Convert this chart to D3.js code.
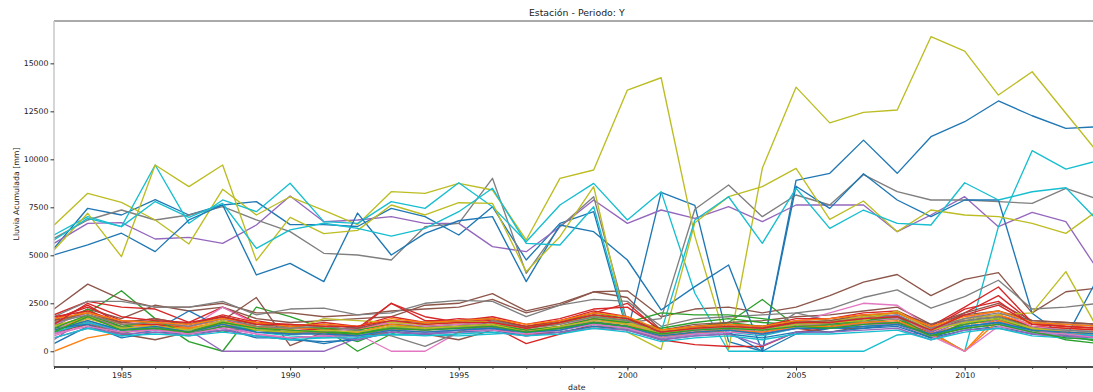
<!DOCTYPE html>
<html><head><meta charset="utf-8">
<script src="https://cdn.jsdelivr.net/npm/d3@7"></script>
<style>
body{margin:0;background:#fff}
svg{display:block}
text{font-family:"DejaVu Sans",sans-serif}
</style>
</head><body>
<svg id="chart" width="1093" height="392"></svg>
<script>
const years = [1983,1984,1985,1986,1987,1988,1989,1990,1991,1992,1993,1994,1995,1996,1997,1998,1999,2000,2001,2002,2003,2004,2005,2006,2007,2008,2009,2010,2011,2012,2013,2014];
const yTickValues = [0,2500,5000,7500,10000,12500,15000];
const xMajorTicks = [1985,1990,1995,2000,2005,2010];

const est00 = [5365,7448,7100,7900,7100,7620,7795,6600,6600,6500,7446,7012,6057,7530,4755,6665,7273,1000,8280,7600,500,0,8900,9270,11000,9270,11180,11960,13040,12270,11610,11700];
const est01 = [0,700,1000,1100,1000,1300,1100,1000,900,1000,1100,1200,1300,1400,1000,1300,1700,1500,900,1100,1300,1100,1500,1400,1600,1700,1100,1600,1800,1300,1200,1100];
const est02 = [1500,2000,3150,1700,500,0,2300,1800,1200,0,900,1500,1600,1700,1200,1500,2000,1700,1100,1300,1500,2700,1300,1400,1500,1700,900,1400,1700,1100,900,700];
const est03 = [1900,2600,2300,2200,1500,2300,1500,1400,1300,1100,2500,1800,1500,1700,1300,1600,2000,2500,1000,1200,1300,1200,1600,1700,1900,1800,1100,2000,2900,1500,1300,1200];
const est04 = [5625,6667,6700,5850,5930,5625,6580,8090,6750,6840,7012,6665,6665,5450,5189,6491,7880,6665,7360,6927,7535,6753,7621,7621,7620,6231,7100,8054,6492,7238,6752,4100];
const est05 = [2200,3500,2700,2300,2300,2500,2000,2000,1800,1900,2100,2200,2300,2700,2000,2400,3100,3150,1800,2200,2300,2000,2300,2900,3600,4000,2900,3750,4100,2000,3100,3300];
const est06 = [800,1400,1100,1200,1000,1300,900,700,800,900,0,0,1000,1200,900,1100,1500,1300,700,1000,1100,900,1300,1400,1800,1800,900,1300,1500,1100,900,800];
const est07 = [5885,6840,7361,6840,7100,7535,6840,6233,5104,5017,4755,6491,6665,9010,4061,6491,8054,1500,1700,7400,8664,7014,8142,7621,9200,8314,7880,7880,7793,7706,8488,7900];
const est08 = [6563,8229,7760,6840,5590,8437,7100,8050,7340,6600,8314,8228,8748,8400,5797,9010,9443,13609,14250,6000,100,9530,13760,11900,12447,12568,16387,15641,13349,14565,12400,10240];
const est09 = [6059,7014,6493,9703,6667,7882,7274,8750,6753,6660,7793,7446,8780,7530,5710,7620,8748,6839,8316,3021,0,0,0,0,0,850,1000,0,6490,10450,9490,9950];
const est10 = [5017,5538,6150,5191,6840,7620,3976,4583,3629,7200,5016,6144,6800,7012,3627,6578,6231,4755,2153,3370,4497,0,8600,7445,9245,7880,7010,7880,7880,1980,700,4000];
const est11 = [1300,1800,1300,1200,1100,1400,1200,1000,1100,900,1300,1100,1300,1300,1100,1200,1600,1300,700,1000,1200,1000,1300,1300,1400,1500,900,1400,1600,1100,1000,900];
const est12 = [1100,1500,900,1400,1200,1000,1300,900,1000,500,1200,1300,1200,1300,1000,1200,1500,1300,1000,1200,1500,1300,1500,1300,1700,1900,1100,1600,1800,1300,800,500];
const est13 = [1700,2300,1600,1500,1300,1700,1300,1200,1100,1200,1400,1300,1400,1300,400,900,1400,1200,600,350,250,250,1000,1200,1400,1500,1000,1700,1900,1300,1200,1100];
const est14 = [900,1500,1000,1200,1100,0,0,0,0,700,1000,900,1100,1300,1000,1200,1600,1300,900,1100,1200,1000,1400,1200,1500,1500,900,1600,1500,1100,1000,900];
const est15 = [1400,2200,1700,2400,2100,2300,1700,1500,1600,1700,1800,2400,2500,3000,2100,2500,3100,2800,1100,1400,1500,1600,1800,1900,2100,2300,1400,2000,2500,1600,1500,1400];
const est16 = [1200,1700,1300,1300,1200,2300,1400,1200,1300,1000,1300,1200,1300,1400,1100,1300,1800,1500,800,1200,1300,1100,1500,2000,2500,2400,1200,1400,1700,900,700,800];
const est17 = [1800,2600,2600,2300,2300,2600,1900,2200,2250,1900,2000,2500,2650,2600,1800,2400,2700,2600,1300,1700,1800,1900,2000,2200,2800,3200,2250,2850,3700,2200,2300,2500];
const est18 = [5278,7188,4931,9703,8576,9703,4722,6979,6130,6300,7620,7100,7740,7707,4148,5970,8574,1000,100,6700,8056,8576,9530,6875,7830,6231,7360,7100,7012,6665,6144,7400];
const est19 = [5800,6927,6493,7800,6980,7700,5365,6320,6670,6400,6000,6400,7270,8490,5623,5536,7530,1200,1000,6840,8050,5625,8490,6406,7359,6665,6579,8780,7880,8310,8520,6700];
const est20 = [400,1300,800,1100,2100,1200,700,700,400,700,1100,1000,1100,1200,900,1100,1500,1300,700,900,1000,0,900,1200,1200,1400,700,1300,1500,1000,900,800];
const est21 = [1000,1900,1500,1400,1300,1600,1300,1200,1200,1100,1500,1400,1500,1600,1200,1400,1900,1600,900,1200,1300,1200,1500,1500,1700,1800,1000,0,1900,1400,1300,1200];
const est22 = [1300,2200,1200,1600,1400,1800,1400,1300,1200,1100,1400,1300,1400,1500,1300,1500,1800,1600,1200,1500,1700,1500,1400,1300,1600,1700,700,1500,1700,1200,1100,1000];
const est23 = [1600,2400,1400,1400,1200,1500,1600,1300,1500,1300,1800,1500,1700,1600,1300,1600,2100,1800,900,1100,1300,1200,1500,1500,1800,2000,1200,2200,2600,1400,1300,1200];
const est24 = [600,1800,1200,1100,900,1300,1000,900,1000,800,1200,1100,1300,1200,1000,1200,1700,1400,900,1100,1300,1100,1600,1500,1700,1900,1000,1900,1600,1200,1000,900];
const est25 = [1000,1400,900,600,1000,1600,2800,300,1000,800,1000,900,600,1100,900,1000,1300,1200,700,900,1100,900,1200,1000,1300,1400,800,1200,1400,1000,900,700];
const est26 = [1400,2000,1500,1600,1300,1700,1200,1100,1000,1200,1500,1300,1400,1500,1100,1300,1600,1400,900,1100,1200,1000,1400,1400,1600,1700,1200,1700,2100,1300,1100,1000];
const est27 = [1100,1600,1100,1200,1000,1400,1100,900,1000,900,1200,1100,1200,1300,1000,1200,1500,1300,800,1000,1100,900,2000,1600,1700,1800,1100,1600,1800,1200,1100,1000];
const est28 = [1300,1800,1400,1300,1200,1500,1200,1100,1700,1600,1500,1400,1600,1500,1200,1500,1800,1500,900,1200,1400,1300,1500,1600,1800,2000,1300,1700,1900,2000,4150,1000];
const est29 = [1000,1500,1100,1300,1100,1600,1000,800,700,800,850,850,800,900,1000,1100,1400,1200,700,900,1000,800,1200,1200,1300,1400,800,1300,1500,1000,900,800];
const est30 = [1200,1400,700,1000,900,1100,800,600,500,600,1000,900,1000,1100,800,1000,1300,1100,600,800,900,700,1000,1000,1200,1300,700,1100,1300,900,800,700];
const est31 = [1500,2100,1400,1300,1200,1500,1300,1100,1000,1000,1400,1200,1300,1400,1100,1300,1700,1400,800,1000,1100,1000,1300,1300,1500,1600,900,0,1600,1200,1000,900];
const est32 = [1200,1900,1300,1600,900,1300,1100,1000,1100,900,1300,1200,1300,1400,1100,1300,1700,1500,2000,1900,1900,1700,1500,1400,1600,1800,800,1400,1700,1100,600,400];
const est33 = [1800,2100,1500,1700,1400,1900,1500,1300,1400,1200,2500,1600,1600,1800,1400,1700,2200,2300,1100,1300,1400,1300,1700,1700,2000,2100,1300,2300,3350,1500,1400,1300];
const est34 = [700,1200,900,1000,800,1100,800,700,800,600,1000,900,1000,1000,800,1000,1200,1100,600,800,900,300,1000,1000,1100,1200,600,1100,1200,900,800,700];
const est35 = [1600,2000,1500,1700,1400,1800,1400,1300,1400,1200,1600,1500,1600,1700,1200,1500,1900,1700,1000,1300,1400,1300,1500,1600,1900,2000,1400,1900,2100,1600,1500,1400];
const est36 = [900,1300,1000,1100,900,1200,900,700,800,800,1100,1000,1100,1100,900,1100,1400,1200,700,900,1000,900,1200,1200,1400,1400,800,0,1300,1000,900,700];
const est37 = [1500,1900,1400,1500,1300,1700,1300,1200,1300,1100,800,250,1000,1600,1200,1400,1800,1600,1000,1200,1300,1200,1400,1500,1700,1800,1200,1700,2000,1500,1400,1300];
const est38 = [1100,1700,1200,1300,1100,1600,1100,1000,1100,1000,1300,1200,1300,1400,1000,1300,1600,1400,1100,1200,1300,1100,1400,1500,1600,2100,1100,1500,1700,1200,1000,900];
const est39 = [700,1200,800,900,800,1000,800,600,700,700,900,800,900,1000,800,900,1200,1000,500,700,800,600,900,900,1000,1100,600,1000,1200,800,700,600];
const est40 = [1100,1600,1100,1300,1000,1400,1000,900,900,800,1100,1000,1100,1200,1000,1100,1500,1300,800,1000,1100,900,1200,1200,1300,1400,900,1300,1500,1100,1000,900];
const est41 = [1700,2000,1600,1500,1400,1700,1500,1300,1400,1300,1700,1500,1600,1700,1400,1600,2000,1800,1100,1300,1400,1300,1600,1700,1900,2000,1300,1800,2100,1500,1400,1300];
const est42 = [1000,1800,1100,1200,1000,1500,1200,1100,1000,900,1200,1100,1200,1300,1000,1200,1500,1300,900,1100,1200,1100,1300,1200,1400,1500,800,1200,1400,1000,700,600];
const est43 = [1400,2500,1800,1600,1500,1800,1400,1400,1300,1300,1600,1400,1500,1500,1200,1500,1900,1700,1000,1200,1300,1200,1500,1500,1700,1800,1100,1900,2400,1400,1300,1200];

const seriesList = [est00,est01,est02,est03,est04,est05,est06,est07,est08,est09,est10,est11,est12,est13,est14,est15,est16,est17,est18,est19,est20,est21,est22,est23,est24,est25,est26,est27,est28,est29,est30,est31,est32,est33,est34,est35,est36,est37,est38,est39,est40,est41,est42,est43];

const svg = d3.select("#chart");
const pLeft = 54, pRight = 1099.6, pTop = 21, pBottom = 367;

const x = d3.scaleLinear().domain(d3.extent(years)).range([pLeft, pRight]);
const allVals = seriesList.flat();
const vmin = d3.min(allVals), vmax = d3.max(allVals), vpad = (vmax - vmin) * 0.05;
const y = d3.scaleLinear().domain([vmin - vpad, vmax + vpad]).range([pBottom, pTop]);
const color = d3.scaleOrdinal(d3.schemeCategory10);

svg.append("defs").append("clipPath").attr("id","plotclip")
  .append("rect").attr("x", pLeft).attr("y", pTop).attr("width", pRight - pLeft).attr("height", pBottom - pTop);

const line = d3.line().x((d,i) => x(years[i])).y(d => y(d));
const g = svg.append("g").attr("clip-path","url(#plotclip)");
seriesList.forEach((s, i) => {
  g.append("path").datum(s).attr("d", line)
    .attr("fill","none").attr("stroke", color(i % 10))
    .attr("stroke-width", 1.35).attr("stroke-linejoin","round");
});

// spines
svg.append("line").attr("x1",pLeft).attr("x2",pRight+1).attr("y1",pTop).attr("y2",pTop).attr("stroke","#555").attr("stroke-width",1);
svg.append("line").attr("x1",pLeft).attr("x2",pLeft).attr("y1",pTop).attr("y2",pBottom).attr("stroke","#c4c4c4").attr("stroke-width",1.4);
svg.append("line").attr("x1",pLeft).attr("x2",pRight+1).attr("y1",pBottom).attr("y2",pBottom).attr("stroke","#111").attr("stroke-width",1.3);

// y axis
const yAxis = svg.append("g").attr("transform",`translate(${pLeft},0)`)
  .call(d3.axisLeft(y).tickValues(yTickValues).tickFormat(d3.format("d")).tickSize(3.5).tickPadding(2));
yAxis.select(".domain").remove();
yAxis.selectAll("line").attr("stroke","#333");
yAxis.selectAll("text").attr("font-size","7.8px").attr("fill","#222").style("font-family","DejaVu Sans");

// x axis minor ticks
const xMinor = svg.append("g").attr("transform",`translate(0,${pBottom})`)
  .call(d3.axisBottom(x).tickValues(years).tickFormat("").tickSize(2));
xMinor.select(".domain").remove();
xMinor.selectAll("line").attr("stroke","#444");
// x axis major ticks
const xAxis = svg.append("g").attr("transform",`translate(0,${pBottom})`)
  .call(d3.axisBottom(x).tickValues(xMajorTicks).tickFormat(d3.format("d")).tickSize(3.5).tickPadding(2));
xAxis.select(".domain").remove();
xAxis.selectAll("line").attr("stroke","#333");
xAxis.selectAll("text").attr("font-size","7.8px").attr("fill","#222").style("font-family","DejaVu Sans");

// title and labels
const cx = (pLeft + pRight) / 2;
svg.append("text").attr("x", cx).attr("y", 16.3).attr("text-anchor","middle")
  .attr("font-size","9.4px").attr("fill","#222").text("Estación - Periodo: Y");
svg.append("text").attr("x", cx).attr("y", 389.5).attr("text-anchor","middle")
  .attr("font-size","7.8px").attr("fill","#222").text("date");
svg.append("text").attr("transform",`translate(19,${(pTop+pBottom)/2}) rotate(-90)`)
  .attr("text-anchor","middle").attr("font-size","7.8px").attr("fill","#222").text("Lluvia Acumulada [mm]");
</script>
</body></html>
